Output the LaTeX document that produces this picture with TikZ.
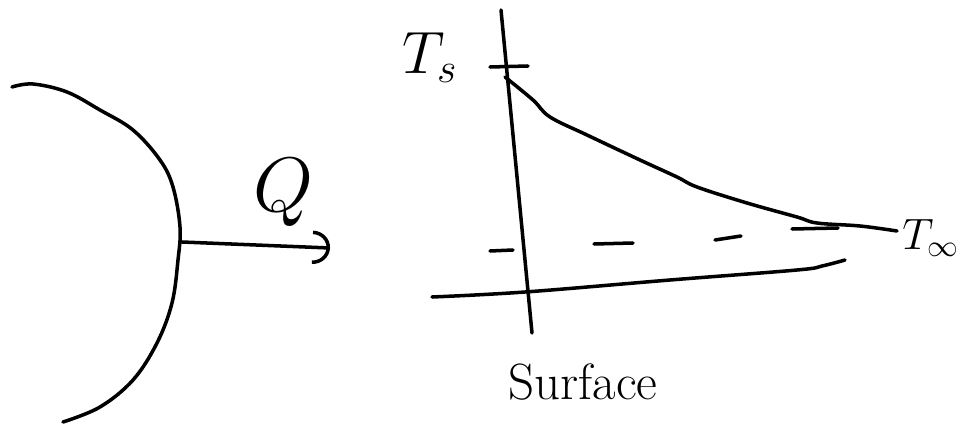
\RequirePackage{fix-cm}
\documentclass[tikz,border=0pt]{standalone}
\usetikzlibrary{arrows.meta}
\tikzset{
  pen/.style={line width=2pt, line cap=round, line join=round},
  lbl/.style={inner sep=0pt, font=\fontsize{34}{36}\selectfont},
}

\begin{document}
\begin{tikzpicture}[x=0.02cm,y=-0.02cm]
  \useasboundingbox (0,0) rectangle (960,429);
  % body
  \draw[pen] plot[smooth, tension=0.6] coordinates {(12,87) (33,84) (67,92) (100,110) (133,130) (160,160) (173,187) (180,227) (178,260) (172,303) (157,343) (133,380) (100,407) (63,422)};
  \coordinate (surf) at (182,242);
  \coordinate (qend) at (330,248);
  \draw[pen, -{Arc Barb[length=10pt,width=19pt]}] (surf) -- (qend);
  \node[lbl, font=\fontsize{44}{46}\selectfont] (q) at (283,193) {$Q$};
  % axes
  \coordinate (ytop) at (501,10);
  \coordinate (ybot) at (532,333);
  \draw[pen] (ytop) -- (ybot);
  \draw[pen] plot[smooth, tension=0.6] coordinates {(432,297) (525,292) (670,280) (797,270) (822,266) (845,260)};
  % temperature profile
  \coordinate (tsl) at (490,67);
  \coordinate (tsr) at (528,66);
  \draw[pen] (tsl) -- (tsr);
  \node[lbl] (ts) at (430,58) {$T_s$};
  \draw[pen] plot[smooth, tension=0.6] coordinates {(505,77) (533,100) (550,117) (587,135) (640,160) (677,177) (697,187) (747,203) (797,217) (817,223) (860,226) (897,231)};
  \foreach \xa/\ya/\xb/\yb in {490/251/513/250, 594/244/633/243, 715/240/741/236, 792/229/838/228}
    \draw[pen] (\xa,\ya) -- (\xb,\yb);
  \node[lbl, anchor=west, font=\fontsize{25}{27}\selectfont] (tinf) at (902,238) {$T_\infty$};
  \node[lbl, font=\fontsize{29}{31}\selectfont] (surface) at (583,382) {Surface};
\end{tikzpicture}
\end{document}
